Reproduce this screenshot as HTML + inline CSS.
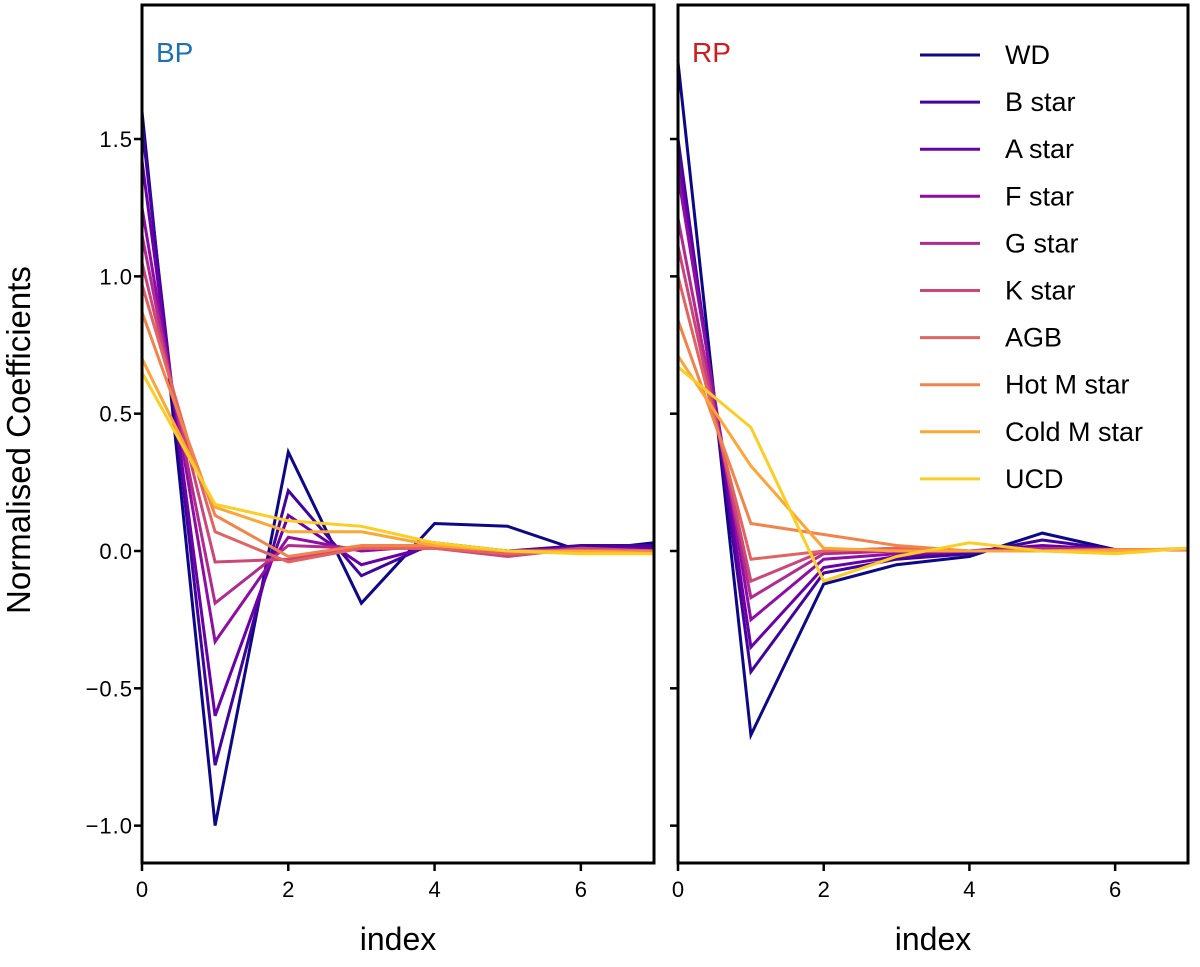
<!DOCTYPE html>
<html><head><meta charset="utf-8"><style>
body{margin:0;background:#fff}
svg{display:block;font-family:"Liberation Sans",sans-serif}
</style></head><body>
<svg id="chart" width="1200" height="967" viewBox="0 0 1200 967"></svg>
<script>
const classes=["WD","B star","A star","F star","G star","K star","AGB","Hot M star","Cold M star","UCD"];
const colors=["#0d0887","#41049d","#6a00a8","#8f0da4","#b12a90","#cc4778","#e16462","#f2844b","#fca636","#fcce25"];
const indices=[0,1,2,3,4,5,6,7];
const bpValues=[
[1.60,-1.00,0.36,-0.19,0.10,0.09,0.00,0.03],
[1.55,-0.78,0.22,-0.09,0.03,0.00,0.02,0.02],
[1.42,-0.60,0.13,-0.05,0.02,0.00,0.01,0.01],
[1.25,-0.33,0.05,0.00,0.02,0.00,0.01,0.00],
[1.15,-0.19,0.02,0.01,0.01,-0.01,0.01,0.00],
[1.05,-0.04,-0.03,0.01,0.01,-0.02,0.01,0.00],
[0.97,0.07,-0.04,0.01,0.01,-0.01,0.00,0.00],
[0.87,0.13,-0.02,0.02,0.02,0.00,0.00,0.00],
[0.70,0.16,0.07,0.07,0.02,0.00,0.00,-0.01],
[0.65,0.17,0.11,0.09,0.03,0.00,-0.01,-0.01]];
const rpValues=[
[1.78,-0.67,-0.12,-0.05,-0.02,0.065,0.005,0.005],
[1.50,-0.44,-0.08,-0.03,-0.01,0.04,0.005,0.005],
[1.44,-0.35,-0.06,-0.02,0.00,0.02,0.005,0.005],
[1.37,-0.25,-0.03,-0.01,0.00,0.01,0.005,0.005],
[1.21,-0.17,-0.01,0.00,0.00,0.01,0.005,0.005],
[1.11,-0.11,0.00,0.01,0.00,0.00,0.005,0.005],
[1.00,-0.03,0.00,0.01,0.00,0.00,0.005,0.005],
[0.84,0.10,0.06,0.02,0.00,0.00,0.005,0.005],
[0.71,0.31,0.01,0.00,0.00,0.00,0.00,0.01],
[0.67,0.45,-0.11,-0.02,0.03,0.00,-0.01,0.01]];
const yTicks=[1.5,1.0,0.5,0.0,-0.5,-1.0];
const yTickLabels=["1.5","1.0","0.5","0.0","\u22120.5","\u22121.0"];
const xTicks=[0,2,4,6];

const svg=document.getElementById('chart');
const NS="http://www.w3.org/2000/svg";
function mk(tag,attrs,parent){const e=document.createElementNS(NS,tag);for(const k in attrs)e.setAttribute(k,attrs[k]);(parent||svg).appendChild(e);return e;}
const plotTop=5,plotBottom=863,yMin=-1.136,yMax=1.988;
function yScale(v){return plotBottom-(v-yMin)/(yMax-yMin)*(plotBottom-plotTop);}
function makeX(x0,x1){return v=>x0+v/7*(x1-x0);}

function drawPanel(name,x0,x1,values,label,labelColor,showY){
  const xs=makeX(x0,x1);
  const g=mk('g',{});
  
  
  const clipId=name+'-clip';
  const cp=mk('clipPath',{id:clipId},g);mk('rect',{x:x0,y:plotTop,width:x1-x0,height:plotBottom-plotTop},cp);
  const lines=mk('g',{'clip-path':'url(#'+clipId+')'},g);
  values.forEach((row,i)=>{
    const d=row.map((v,j)=>(j?'L':'M')+xs(indices[j]).toFixed(1)+','+yScale(v).toFixed(1)).join(' ');
    const p=mk('path',{d:d,fill:'none',stroke:colors[i],'stroke-width':3,'stroke-linejoin':'miter'},lines);
    
    
  });
  const fr=mk('rect',{x:x0,y:plotTop,width:x1-x0,height:plotBottom-plotTop,fill:'none',stroke:'#000','stroke-width':3},g);
  
  
  yTicks.forEach((t,i)=>{
    const y=yScale(t);
    mk('line',{x1:x0-8,x2:x0,y1:y,y2:y,stroke:'#000','stroke-width':2.5},g);
    if(showY){const tx=mk('text',{x:x0-9,y:y+8,'text-anchor':'end','font-size':22,'letter-spacing':1,fill:'#000'},g);tx.textContent=yTickLabels[i];
      
      }
  });
  xTicks.forEach(t=>{
    const x=xs(t);
    mk('line',{x1:x,x2:x,y1:plotBottom,y2:plotBottom+8,stroke:'#000','stroke-width':2.5},g);
    const tx=mk('text',{x:x,y:plotBottom+34,'text-anchor':'middle','font-size':22,fill:'#000'},g);tx.textContent=t;
    
    
  });
  const xl=mk('text',{x:(x0+x1)/2,y:950,'text-anchor':'middle','font-size':32,fill:'#000'},g);xl.textContent='index';
  
  
  const lb=mk('text',{x:x0+14,y:62,'font-size':28,fill:labelColor},g);lb.textContent=label;
  
  
}
drawPanel('bp',142,654,bpValues,'BP','#1f6fb4',true);
drawPanel('rp',678,1188,rpValues,'RP','#d01c1c',false);

const yt=mk('text',{x:0,y:0,transform:'translate(30,440) rotate(-90)','text-anchor':'middle','font-size':33,fill:'#000'});
yt.textContent='Normalised Coefficients';



const lg=mk('g',{});


classes.forEach((c,i)=>{
  const y=55+i*47.1;
  const e=mk('g',{},lg);
  
  
  mk('line',{x1:920,x2:980,y1:y,y2:y,stroke:colors[i],'stroke-width':3},e);
  const t=mk('text',{x:1005,y:y+9,'font-size':27,fill:'#000'},e);t.textContent=c;
});
</script>
</body></html>
